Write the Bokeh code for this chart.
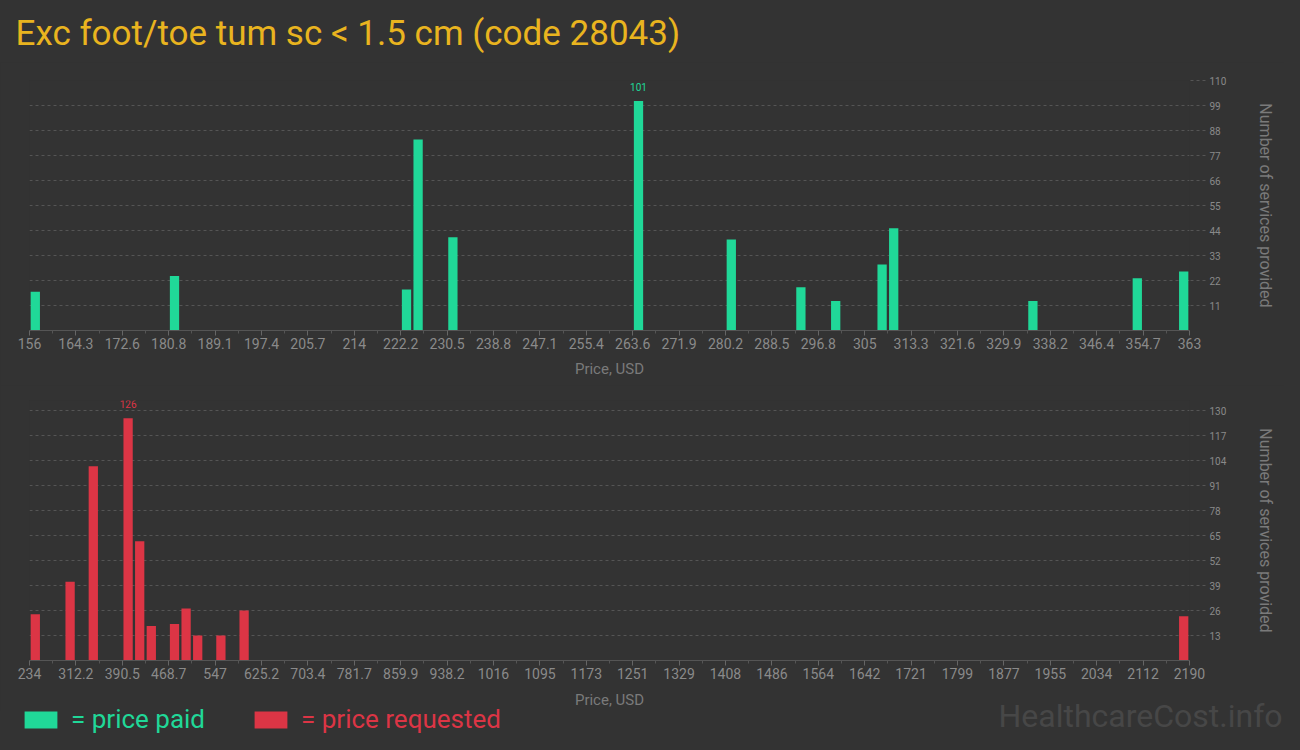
import numpy as np
from bokeh.plotting import figure
from bokeh.models import (FixedTicker, Legend, LegendItem, Label,
                          CustomJSTickFormatter, GlobalInlineStyleSheet,
                          ColumnDataSource)
from bokeh.layouts import column
from bokeh.embed import file_html
from bokeh.resources import INLINE
from bokeh.core.properties import value

TITLE = "Exc foot/toe tum sc < 1.5 cm (code 28043)"
X_TITLE = "Price, USD"
Y_TITLE = "Number of services provided"
WATERMARK = "HealthcareCost.info"

# ---- price paid histogram (bin start price, count) ----
paid_bin_start = [156.0, 180.84, 222.24, 224.31, 230.52, 263.64, 280.2,
                  292.62, 298.83, 307.11, 309.18, 334.02, 352.65, 360.93]
paid_counts = [17, 24, 18, 84, 41, 101, 40, 19, 13, 29, 45, 13, 23, 26]
paid_bin_width = 2.07
paid_x_labels = ["156", "164.3", "172.6", "180.8", "189.1", "197.4", "205.7",
                 "214", "222.2", "230.5", "238.8", "247.1", "255.4", "263.6",
                 "271.9", "280.2", "288.5", "296.8", "305", "313.3", "321.6",
                 "329.9", "338.2", "346.4", "354.7", "363"]
paid_x_min, paid_x_max = 156.0, 363.0
paid_y_ticks = [11, 22, 33, 44, 55, 66, 77, 88, 99, 110]

# ---- price requested histogram ----
req_bin_start = [234.0, 292.68, 331.8, 390.48, 410.04, 429.6, 468.72,
                 488.28, 507.84, 546.96, 586.08, 2170.44]
req_counts = [24, 41, 101, 126, 62, 18, 19, 27, 13, 13, 26, 23]
req_bin_width = 19.56
req_x_labels = ["234", "312.2", "390.5", "468.7", "547", "625.2", "703.4",
                "781.7", "859.9", "938.2", "1016", "1095", "1173", "1251",
                "1329", "1408", "1486", "1564", "1642", "1721", "1799",
                "1877", "1955", "2034", "2112", "2190"]
req_x_min, req_x_max = 234.0, 2190.0
req_y_ticks = [13, 26, 39, 52, 65, 78, 91, 104, 117, 130]

BG = "#333333"
GREEN = "#20d898"
RED = "#dc3545"
GOLD = "#e9b41f"
GRID = "#555555"
TICKC = "#8a8a8a"
LABELC = "#7a7a7a"
FONT = "Roboto"
W = 1284


def hist_source(starts, counts, binw):
    return ColumnDataSource(dict(x=[s + binw / 2 for s in starts],
                                 top=counts))


def strip(height):
    s = figure(width=W, height=height, output_backend="svg",
               toolbar_location=None, x_range=(0, 1), y_range=(0, 1),
               min_border=0, background_fill_alpha=0, border_fill_alpha=0)
    s.frame_align = False
    s.outline_line_color = None
    s.axis.visible = False
    s.grid.visible = False
    return s


def make_hist(src, binw, xmin, xmax, xlabels, yticks, y_end, color,
              height, top, bottom, xlabel_standoff):
    p = figure(width=W, height=height, output_backend="svg",
               toolbar_location=None, x_range=(xmin, xmax),
               y_range=(0, y_end), y_axis_location="right",
               min_border_left=29, min_border_right=95,
               min_border_top=top, min_border_bottom=bottom,
               background_fill_color=BG, border_fill_color=BG)
    p.outline_line_color = None
    p.vbar(x="x", top="top", width=binw * 0.8, bottom=0, source=src,
           fill_color=color, line_color=None)
    # label on the highest bar
    xs, tops = src.data["x"], src.data["top"]
    i = int(np.argmax(tops))
    p.text(x=[xs[i]], y=[tops[i]], text=[str(tops[i])],
           text_align="center", text_baseline="bottom", y_offset=-10,
           text_font=value(FONT), text_font_size="10px", text_color=color)

    ticks = list(np.linspace(xmin, xmax, len(xlabels)))
    minors = [(a + b) / 2 for a, b in zip(ticks[:-1], ticks[1:])]
    xa = p.xaxis[0]
    xa.ticker = FixedTicker(ticks=ticks, minor_ticks=minors)
    xa.formatter = CustomJSTickFormatter(args=dict(labels=xlabels),
                                         code="return labels[index];")
    xa.axis_line_color = "#555555"
    xa.major_tick_line_color = "#666666"
    xa.minor_tick_line_color = "#555555"
    xa.major_tick_out = 5
    xa.major_tick_in = 0
    xa.minor_tick_out = 3
    xa.minor_tick_in = 0
    xa.major_label_text_align = "left"
    xa.major_label_standoff = 2
    xa.major_label_text_font = FONT
    xa.major_label_text_font_size = "14px"
    xa.major_label_text_color = TICKC
    xa.axis_label = X_TITLE
    xa.axis_label_text_font = FONT
    xa.axis_label_text_font_size = "15px"
    xa.axis_label_text_font_style = "normal"
    xa.axis_label_text_color = LABELC
    xa.axis_label_standoff = xlabel_standoff

    ya = p.yaxis[0]
    ya.ticker = FixedTicker(ticks=yticks)
    ya.axis_line_color = None
    ya.major_tick_out = 16
    ya.major_tick_in = 0
    ya.major_tick_line_color = GRID
    ya.major_tick_line_dash = "3 3"
    ya.minor_tick_line_color = None
    ya.major_label_standoff = 4
    ya.major_label_text_font = FONT
    ya.major_label_text_font_size = "10px"
    ya.major_label_text_color = TICKC
    ya.axis_label = Y_TITLE
    ya.axis_label_text_font = FONT
    ya.axis_label_text_font_size = "16px"
    ya.axis_label_text_font_style = "normal"
    ya.axis_label_text_color = LABELC
    ya.axis_label_standoff = 27

    p.xgrid.grid_line_color = None
    p.ygrid.ticker = FixedTicker(ticks=yticks)
    p.ygrid.grid_line_color = GRID
    p.ygrid.grid_line_dash = "3 3"
    return p


paid_src = hist_source(paid_bin_start, paid_counts, paid_bin_width)
req_src = hist_source(req_bin_start, req_counts, req_bin_width)

# title strip
p0 = strip(62)
p0.add_layout(Label(x=15, y=29, x_units="screen", y_units="screen",
                    text=TITLE, text_align="left", text_baseline="middle",
                    text_font=FONT, text_font_size="35px",
                    text_color=GOLD))

p1 = make_hist(paid_src, paid_bin_width, paid_x_min, paid_x_max,
               paid_x_labels, paid_y_ticks, paid_y_ticks[-1],
               GREEN, 323, 18, 55, 8)

# frame extends a little above the top tick so the bar label is not clipped
p2 = make_hist(req_src, req_bin_width, req_x_min, req_x_max,
               req_x_labels, req_y_ticks, req_y_ticks[-1] * 1.04,
               RED, 326, 15, 50, 9)

# legend / watermark strip (transparent, overlapping p2's bottom border)
p3 = strip(40)
p3.margin = (-17, 0, 0, 0)
# legend proxies: same data, lying outside this strip's ranges
g = p3.vbar(x="x", top="top", width=1, source=paid_src,
            fill_color=GREEN, line_color=None)
r = p3.vbar(x="x", top="top", width=1, source=req_src,
            fill_color=RED, line_color=None)
for rend, lab, col, loc in [(g, "= price paid", GREEN, (20, 0)),
                            (r, "= price requested", RED, (250, 0))]:
    lg = Legend(items=[LegendItem(label=lab, renderers=[rend])],
                location=loc, glyph_width=41, glyph_height=21,
                label_standoff=10, padding=0, margin=0,
                background_fill_alpha=0, border_line_color=None,
                label_text_font=FONT, label_text_font_size="26px",
                label_text_color=col)
    p3.add_layout(lg, "center")
p3.add_layout(Label(x=W - 2, y=19, x_units="screen", y_units="screen",
                    text=WATERMARK, text_align="right",
                    text_baseline="middle",
                    text_font=FONT, text_font_size="32px",
                    text_color="#474747"))

layout = column(p0, p1, p2, p3, spacing=0,
                stylesheets=[GlobalInlineStyleSheet(
                    css="html, body { background-color: #333333; }")])
open("out.html", "w").write(file_html(layout, INLINE))
